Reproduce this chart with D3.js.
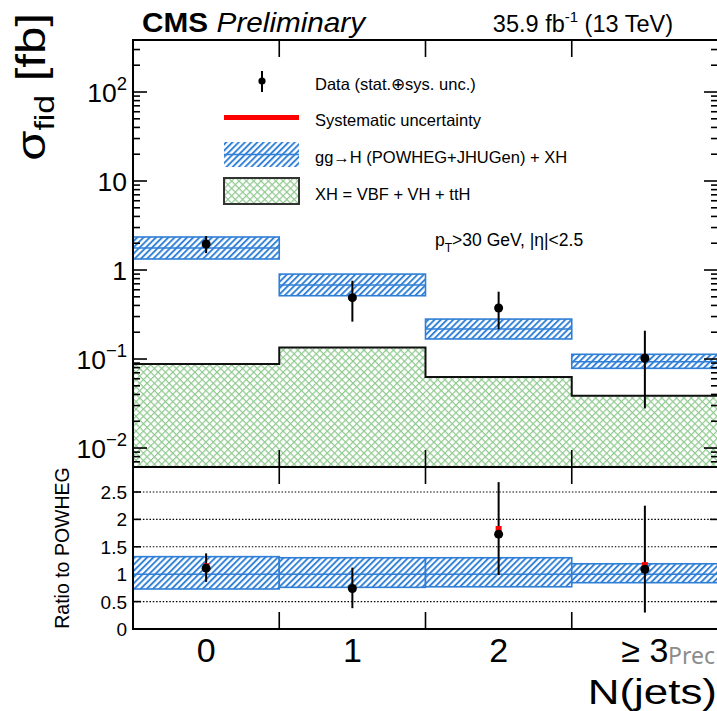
<!DOCTYPE html>
<html>
<head>
<meta charset="utf-8">
<script src="https://cdn.jsdelivr.net/npm/d3@7"></script>
<style>
  html, body { margin: 0; padding: 0; background: #fff; }
  svg { display: block; font-family: "Liberation Sans", Arial, sans-serif; }
</style>
</head>
<body>
<svg id="chart" width="717" height="711"></svg>
<script>
// Jet-multiplicity bins
const categories = ["0", "1", "2", "\u2265 3"];

// Measured fiducial cross section [fb] with total uncertainty bounds
const dataXsec = [1.96, 0.489, 0.374, 0.102];
const dataHi   = [2.41, 0.758, 0.571, 0.208];
const dataLo   = [1.55, 0.263, 0.216, 0.0279];
// Systematic-only bounds
const systHi   = [2.12, 0.529, 0.406, 0.114];
const systLo   = [1.85, 0.449, 0.359, 0.097];

// gg->H (POWHEG+JHUGen) + XH prediction with its uncertainty band
const predCentral = [1.77, 0.678, 0.217, 0.093];
const predHi      = [2.35, 0.90, 0.281, 0.113];
const predLo      = [1.33, 0.514, 0.168, 0.0786];

// XH = VBF + VH + ttH contribution
const xhValues = [0.088, 0.135, 0.063, 0.0387];

// Ratio to POWHEG
const ratioData   = [1.11, 0.74, 1.73, 1.09];
const ratioHi     = [1.38, 1.12, 2.68, 2.25];
const ratioLo     = [0.86, 0.38, 0.985, 0.30];
const ratioSystHi = [1.20, 0.80, 1.88, 1.22];
const ratioSystLo = [1.05, 0.68, 1.66, 1.04];
const ratioBandHi = [1.32, 1.30, 1.30, 1.19];
const ratioBandLo = [0.73, 0.76, 0.77, 0.845];

// Axis ticks
const upperMajorTicks = [1e-2, 1e-1, 1, 10, 100];
const ratioTicks = [0, 0.5, 1, 1.5, 2, 2.5];

const svg = d3.select("#chart");
const BLUE = "#2f7fd6";
const GREEN = "#8fca8f";

// ---- layout ----
const L = 133, R = 718;
const upTop = 40, upBot = 467;
const rTop = 467, rBot = 629;

const x = d3.scaleBand().domain(d3.range(categories.length)).range([L, R]).paddingInner(0).paddingOuter(0);
const yUp = d3.scaleLog().domain([0.00612, 384]).range([upBot, upTop]);
const yR = d3.scaleLinear().domain([0, 2.956]).range([rBot, rTop]);

// ---- patterns ----
const defs = svg.append("defs");
const hatch = defs.append("pattern").attr("id", "hatchBlue")
  .attr("patternUnits", "userSpaceOnUse").attr("width", 4.4).attr("height", 4.4)
  .attr("patternTransform", "rotate(45)");
hatch.append("rect").attr("width", 4.4).attr("height", 4.4).attr("fill", "#fff");
hatch.append("line").attr("x1", 1).attr("y1", 0).attr("x2", 1).attr("y2", 4.4)
  .attr("stroke", BLUE).attr("stroke-width", 1.9);

const cross = defs.append("pattern").attr("id", "crossGreen")
  .attr("patternUnits", "userSpaceOnUse").attr("width", 5.2).attr("height", 5.2)
  .attr("patternTransform", "rotate(45)");
cross.append("rect").attr("width", 5.2).attr("height", 5.2).attr("fill", "#fff");
cross.append("line").attr("x1", 0.6).attr("y1", 0).attr("x2", 0.6).attr("y2", 5.2)
  .attr("stroke", GREEN).attr("stroke-width", 1.2);
cross.append("line").attr("x1", 0).attr("y1", 0.6).attr("x2", 5.2).attr("y2", 0.6)
  .attr("stroke", GREEN).attr("stroke-width", 1.2);

const clipUp = defs.append("clipPath").attr("id", "clipUp");
clipUp.append("rect").attr("x", L).attr("y", upTop).attr("width", R - L).attr("height", upBot - upTop);
const clipR = defs.append("clipPath").attr("id", "clipR");
clipR.append("rect").attr("x", L).attr("y", rTop).attr("width", R - L).attr("height", rBot - rTop);

// ================= upper panel =================
const gUp = svg.append("g").attr("clip-path", "url(#clipUp)");

// XH contribution (filled step histogram)
gUp.selectAll("rect.xh").data(xhValues).join("rect").attr("class", "xh")
  .attr("x", (d, i) => x(i)).attr("width", x.bandwidth())
  .attr("y", d => yUp(d)).attr("height", d => upBot - yUp(d))
  .attr("fill", "url(#crossGreen)");
const stepPts = [];
xhValues.forEach((v, i) => { stepPts.push([x(i), yUp(v)], [x(i) + x.bandwidth(), yUp(v)]); });
gUp.append("path").attr("d", d3.line()(stepPts))
  .attr("fill", "none").attr("stroke", "#111").attr("stroke-width", 2);

// prediction bands
gUp.selectAll("rect.band").data(predCentral).join("rect").attr("class", "band")
  .attr("x", (d, i) => x(i)).attr("width", x.bandwidth())
  .attr("y", (d, i) => yUp(predHi[i])).attr("height", (d, i) => yUp(predLo[i]) - yUp(predHi[i]))
  .attr("fill", "url(#hatchBlue)").attr("stroke", BLUE).attr("stroke-width", 1.6);
gUp.selectAll("line.central").data(predCentral).join("line").attr("class", "central")
  .attr("x1", (d, i) => x(i)).attr("x2", (d, i) => x(i) + x.bandwidth())
  .attr("y1", d => yUp(d)).attr("y2", d => yUp(d))
  .attr("stroke", BLUE).attr("stroke-width", 1.6);

// data points
const cx = i => x(i) + x.bandwidth() / 2;
gUp.selectAll("line.err").data(dataXsec).join("line").attr("class", "err")
  .attr("x1", (d, i) => cx(i)).attr("x2", (d, i) => cx(i))
  .attr("y1", (d, i) => yUp(dataHi[i])).attr("y2", (d, i) => yUp(dataLo[i]))
  .attr("stroke", "#000").attr("stroke-width", 2);
gUp.selectAll("line.syst").data(dataXsec).join("line").attr("class", "syst")
  .attr("x1", (d, i) => cx(i)).attr("x2", (d, i) => cx(i))
  .attr("y1", (d, i) => yUp(systHi[i])).attr("y2", (d, i) => yUp(systLo[i]))
  .attr("stroke", "#ff0000").attr("stroke-width", 6);
gUp.selectAll("circle.pt").data(dataXsec).join("circle").attr("class", "pt")
  .attr("cx", (d, i) => cx(i)).attr("cy", d => yUp(d)).attr("r", 4.5).attr("fill", "#000");

// frame + ticks upper
svg.append("rect").attr("x", L).attr("y", upTop).attr("width", R - L).attr("height", upBot - upTop)
  .attr("fill", "none").attr("stroke", "#000").attr("stroke-width", 2);

const minorTicks = [];
for (let e = -3; e <= 2; e++) for (let m = 1; m <= 9; m++) {
  const v = m * Math.pow(10, e);
  if (v >= yUp.domain()[0] && v <= yUp.domain()[1]) minorTicks.push({ v, major: m === 1 });
}
const tk = svg.append("g").attr("stroke", "#000").attr("stroke-width", 1.6);
minorTicks.forEach(t => {
  const len = t.major ? 14 : 7;
  tk.append("line").attr("x1", L).attr("x2", L + len).attr("y1", yUp(t.v)).attr("y2", yUp(t.v));
  tk.append("line").attr("x1", R - len).attr("x2", R).attr("y1", yUp(t.v)).attr("y2", yUp(t.v));
});
// bin-edge ticks
for (let i = 1; i < categories.length; i++) {
  const xe = x(i);
  tk.append("line").attr("x1", xe).attr("x2", xe).attr("y1", upTop).attr("y2", upTop + 17);
  tk.append("line").attr("x1", xe).attr("x2", xe).attr("y1", upBot - 17).attr("y2", upBot);
  tk.append("line").attr("x1", xe).attr("x2", xe).attr("y1", rTop).attr("y2", rTop + 17);
  tk.append("line").attr("x1", xe).attr("x2", xe).attr("y1", rBot - 17).attr("y2", rBot);
}

// upper tick labels
const expLabel = { 0.01: ["10", "\u22122"], 0.1: ["10", "\u22121"], 1: ["1", null], 10: ["10", null], 100: ["10", "2"] };
upperMajorTicks.forEach(v => {
  const [base, exp] = expLabel[v];
  const t = svg.append("text").attr("x", 127).attr("y", yUp(v) + 9.5)
    .attr("text-anchor", "end").attr("font-size", 26.5).attr("fill", "#000");
  t.append("tspan").text(base);
  if (exp) t.append("tspan").attr("font-size", 18.5).attr("dy", -12).text(exp);
});

// y-axis title
const yt = svg.append("text").attr("transform", "translate(45,13) rotate(-90) scale(1.2,1)")
  .attr("text-anchor", "end").attr("font-size", 41).attr("fill", "#000");
yt.append("tspan").text("\u03c3");
yt.append("tspan").attr("font-size", 28).attr("dy", 9).text("fid");
yt.append("tspan").attr("dy", -9).text(" [fb]");

// header
const hdr = svg.append("text").attr("transform", "translate(142,32) scale(1.08,1)").attr("font-size", 27.5).attr("fill", "#000");
hdr.append("tspan").attr("font-weight", "bold").text("CMS");
hdr.append("tspan").attr("font-style", "italic").attr("dx", 8).text("Preliminary");
const lumi = svg.append("text").attr("x", 673).attr("y", 32).attr("text-anchor", "end").attr("font-size", 23.5).attr("fill", "#000");
lumi.append("tspan").text("35.9 fb");
lumi.append("tspan").attr("font-size", 15).attr("dy", -10).text("-1");
lumi.append("tspan").attr("dy", 10).text(" (13 TeV)");

// legend
const lg = svg.append("g");
lg.append("line").attr("x1", 262).attr("x2", 262).attr("y1", 71).attr("y2", 92).attr("stroke", "#000").attr("stroke-width", 2);
lg.append("circle").attr("cx", 262).attr("cy", 81).attr("r", 3.6).attr("fill", "#000");
lg.append("line").attr("x1", 224).attr("x2", 299).attr("y1", 117.5).attr("y2", 117.5).attr("stroke", "#ff0000").attr("stroke-width", 5);
lg.append("rect").attr("x", 224).attr("y", 142).attr("width", 75).attr("height", 25).attr("fill", "url(#hatchBlue)");
lg.append("line").attr("x1", 224).attr("x2", 299).attr("y1", 154.5).attr("y2", 154.5).attr("stroke", BLUE).attr("stroke-width", 1.6);
lg.append("rect").attr("x", 224).attr("y", 178).attr("width", 75).attr("height", 26).attr("fill", "url(#crossGreen)")
  .attr("stroke", "#333").attr("stroke-width", 2);
const legendText = ["Data (stat.\u2295sys. unc.)", "Systematic uncertainty", "gg\u2192H (POWHEG+JHUGen) + XH", "XH = VBF + VH + ttH"];
const legendY = [84, 120, 157, 194];
legendText.forEach((s, i) => {
  lg.append("text").attr("x", 315).attr("y", legendY[i] + 6).attr("font-size", 16.5).attr("fill", "#000").text(s);
});

// kinematic selection note
const note = svg.append("text").attr("x", 435).attr("y", 246).attr("font-size", 17.5).attr("fill", "#000");
note.append("tspan").text("p");
note.append("tspan").attr("font-size", 12).attr("dy", 6).text("T");
note.append("tspan").attr("dy", -6).text(">30 GeV, |\u03b7|<2.5");

// ================= ratio panel =================
const gR = svg.append("g").attr("clip-path", "url(#clipR)");
ratioTicks.filter(v => v > 0).forEach(v => {
  gR.append("line").attr("x1", L).attr("x2", R).attr("y1", yR(v)).attr("y2", yR(v))
    .attr("stroke", "#000").attr("stroke-width", 1.1).attr("stroke-dasharray", "1.5,1.8");
});
gR.selectAll("rect.rband").data(ratioBandHi).join("rect").attr("class", "rband")
  .attr("x", (d, i) => x(i)).attr("width", x.bandwidth())
  .attr("y", d => yR(d)).attr("height", (d, i) => yR(ratioBandLo[i]) - yR(d))
  .attr("fill", "url(#hatchBlue)").attr("stroke", BLUE).attr("stroke-width", 1.6);
gR.selectAll("line.rcentral").data(categories).join("line").attr("class", "rcentral")
  .attr("x1", (d, i) => x(i)).attr("x2", (d, i) => x(i) + x.bandwidth())
  .attr("y1", yR(1)).attr("y2", yR(1)).attr("stroke", BLUE).attr("stroke-width", 1.6);
gR.selectAll("line.rerr").data(ratioData).join("line").attr("class", "rerr")
  .attr("x1", (d, i) => cx(i)).attr("x2", (d, i) => cx(i))
  .attr("y1", (d, i) => yR(ratioHi[i])).attr("y2", (d, i) => yR(ratioLo[i]))
  .attr("stroke", "#000").attr("stroke-width", 2);
gR.selectAll("line.rsyst").data(ratioData).join("line").attr("class", "rsyst")
  .attr("x1", (d, i) => cx(i)).attr("x2", (d, i) => cx(i))
  .attr("y1", (d, i) => yR(ratioSystHi[i])).attr("y2", (d, i) => yR(ratioSystLo[i]))
  .attr("stroke", "#ff0000").attr("stroke-width", 6);
gR.selectAll("circle.rpt").data(ratioData).join("circle").attr("class", "rpt")
  .attr("cx", (d, i) => cx(i)).attr("cy", d => yR(d)).attr("r", 4.5).attr("fill", "#000");

svg.append("rect").attr("x", L).attr("y", rTop).attr("width", R - L).attr("height", rBot - rTop)
  .attr("fill", "none").attr("stroke", "#000").attr("stroke-width", 2);
ratioTicks.forEach(v => {
  tk.append("line").attr("x1", L).attr("x2", L + 8).attr("y1", yR(v)).attr("y2", yR(v));
  tk.append("line").attr("x1", R - 8).attr("x2", R).attr("y1", yR(v)).attr("y2", yR(v));
  svg.append("text").attr("x", 127).attr("y", yR(v) + 7).attr("text-anchor", "end")
    .attr("font-size", 19).attr("fill", "#000").text(d3.format("~g")(v));
});
svg.append("text").attr("transform", "translate(69,548) rotate(-90)").attr("text-anchor", "middle")
  .attr("font-size", 19.5).attr("fill", "#000").text("Ratio to POWHEG");

// x-axis labels
categories.forEach((c, i) => {
  svg.append("text").attr("x", cx(i)).attr("y", 662).attr("text-anchor", "middle")
    .attr("font-size", 34).attr("fill", "#000").text(c);
});
svg.append("text").attr("transform", "translate(717,704) scale(1.22,1)").attr("text-anchor", "end")
  .attr("font-size", 36).attr("fill", "#000").text("N(jets)");
svg.append("text").attr("x", 668).attr("y", 664).attr("font-family", "'Noto Sans', sans-serif")
  .attr("font-size", 23).attr("fill", "#8c8c8c").text("Prec");
</script>
</body>
</html>
